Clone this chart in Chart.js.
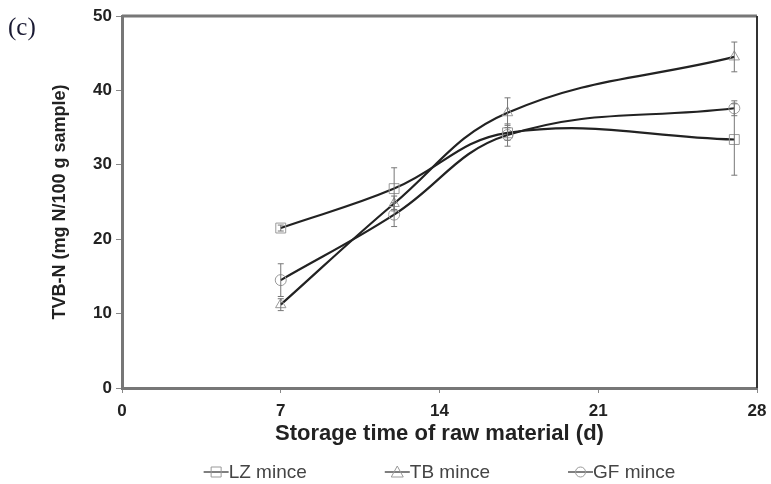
<!DOCTYPE html>
<html>
<head>
<meta charset="utf-8">
<script src="https://cdn.jsdelivr.net/npm/chart.js@4.4.1/dist/chart.umd.min.js"></script>
<style>
  body { margin: 0; background: #fff; }
  #wrap { position: relative; width: 771px; height: 484px; }
  #tag { position: absolute; left: 8px; top: 13px; font-family: "Liberation Serif", serif; font-size: 25px; color: #1a1a33; }
</style>
</head>
<body>
<div id="wrap">
  <canvas id="c" width="771" height="484"></canvas>
  <div id="tag">(c)</div>
</div>
<script>
var days = [7, 12, 17, 27];
var lzMince = [21.5, 26.8, 34.3, 33.4];
var lzErr = [0.4, 2.8, 1.0, 4.8];
var tbMince = [11.2, 24.8, 37.0, 44.5];
var tbErr = [0.8, 1.0, 2.0, 2.0];
var gfMince = [14.5, 23.3, 34.0, 37.6];
var gfErr = [2.2, 1.6, 1.5, 1.0];
var xTicks = [0, 7, 14, 21, 28];

function pts(vals) {
    var arr = [];
    for (var i = 0; i < days.length; i++) arr.push({ x: days[i], y: vals[i] });
    return arr;
}

function drawSymbol(g, style, x, y) {
    g.strokeStyle = '#999'; g.lineWidth = 1;
    g.beginPath();
    if (style == 'rect') g.rect(x - 5, y - 5, 10, 10);
    else if (style == 'triangle') { g.moveTo(x, y - 6); g.lineTo(x + 6, y + 5); g.lineTo(x - 6, y + 5); g.closePath(); }
    else g.arc(x, y, 5, 0, Math.PI * 2);
    g.stroke();
}

var errorBars = {
    id: 'errorBars',
    afterDatasetsDraw: function(chart) {
        var ctx = chart.ctx, xs = chart.scales.x, ys = chart.scales.y;
        ctx.save();
        ctx.strokeStyle = '#777';
        ctx.lineWidth = 1;
        chart.data.datasets.forEach(function(ds) {
            ds.data.forEach(function(p, i) {
                var px = xs.getPixelForValue(p.x);
                var top = ys.getPixelForValue(p.y + ds.err[i]);
                var bot = ys.getPixelForValue(p.y - ds.err[i]);
                ctx.beginPath();
                ctx.moveTo(px, top); ctx.lineTo(px, bot);
                ctx.moveTo(px - 3, top); ctx.lineTo(px + 3, top);
                ctx.moveTo(px - 3, bot); ctx.lineTo(px + 3, bot);
                ctx.stroke();
            });
        });
        ctx.restore();
    }
};

var frame = {
    id: 'frame',
    afterDraw: function(chart) {
        var a = chart.chartArea, ctx = chart.ctx;
        ctx.save();
        ctx.strokeStyle = '#777'; ctx.lineWidth = 3;
        ctx.beginPath(); ctx.moveTo(a.left, a.top); ctx.lineTo(a.right, a.top); ctx.stroke();
        ctx.strokeStyle = '#333'; ctx.lineWidth = 2;
        ctx.beginPath(); ctx.moveTo(a.right, a.top); ctx.lineTo(a.right, a.bottom); ctx.stroke();
        ctx.restore();
    }
};

// legend under the axis title: line + symbol, then the label
var bottomLegend = {
    id: 'bottomLegend',
    afterDraw: function(chart) {
        var ctx = chart.ctx, a = chart.chartArea;
        var sets = chart.data.datasets, gap = 78, icon = 25;
        ctx.save();
        ctx.font = '19px "Liberation Sans"';
        var widths = sets.map(function(ds) { return icon + ctx.measureText(ds.label).width; });
        var total = widths.reduce(function(s, w) { return s + w; }, 0) + gap * (sets.length - 1);
        var x = (a.left + a.right) / 2 - total / 2;
        var y = chart.height - 12;
        sets.forEach(function(ds, i) {
            ctx.strokeStyle = '#555'; ctx.lineWidth = 1.5;
            ctx.beginPath(); ctx.moveTo(x, y); ctx.lineTo(x + icon, y); ctx.stroke();
            drawSymbol(ctx, ds.pointStyle, x + icon / 2, y);
            ctx.fillStyle = '#444'; ctx.textBaseline = 'middle';
            ctx.fillText(ds.label, x + icon, y + 1);
            x += widths[i] + gap;
        });
        ctx.restore();
    }
};

function makeSet(label, vals, err, style, r) {
    return {
        label: label, data: pts(vals), err: err,
        borderColor: '#222', borderWidth: 2.2, tension: 0.4,
        pointStyle: style, pointRadius: r, pointBorderWidth: 1,
        pointBorderColor: '#999', pointBackgroundColor: 'rgba(255,255,255,0)'
    };
}

new Chart(document.getElementById('c').getContext('2d'), {
    type: 'line',
    data: { datasets: [
        makeSet('LZ mince', lzMince, lzErr, 'rect', 7),
        makeSet('TB mince', tbMince, tbErr, 'triangle', 6),
        makeSet('GF mince', gfMince, gfErr, 'circle', 5.5)
    ] },
    options: {
        responsive: false, animation: false,
        layout: { padding: { top: 16, right: 14, bottom: 36, left: 46 } },
        plugins: { tooltip: { enabled: false }, legend: { display: false } },
        scales: {
            x: {
                type: 'linear', min: 0, max: 28,
                afterBuildTicks: function(s) { s.ticks = xTicks.map(function(v) { return { value: v }; }); },
                afterFit: function(s) { s.height = 60; s.paddingRight = 0; },
                ticks: { color: '#222', font: { family: 'Liberation Sans', size: 17, weight: 'bold' }, padding: 8, maxRotation: 0 },
                grid: { drawOnChartArea: false, tickLength: 5, color: '#888' },
                border: { color: '#777', width: 3 },
                title: { display: true, text: 'Storage time of raw material (d)', color: '#222', font: { family: 'Liberation Sans', size: 22, weight: 'bold' }, padding: { top: 0, bottom: 1 } }
            },
            y: {
                min: 0, max: 50,
                afterFit: function(s) { s.width = 76; },
                ticks: { stepSize: 10, color: '#222', font: { family: 'Liberation Sans', size: 17, weight: 'bold' }, padding: 4 },
                grid: { drawOnChartArea: false, tickLength: 6, color: '#888' },
                border: { color: '#777', width: 3 },
                title: { display: true, text: 'TVB-N (mg N/100 g sample)', color: '#222', font: { family: 'Liberation Sans', size: 18, weight: 'bold' }, padding: { top: 3, bottom: 0 } }
            }
        }
    },
    plugins: [errorBars, frame, bottomLegend]
});
</script>
</body>
</html>
